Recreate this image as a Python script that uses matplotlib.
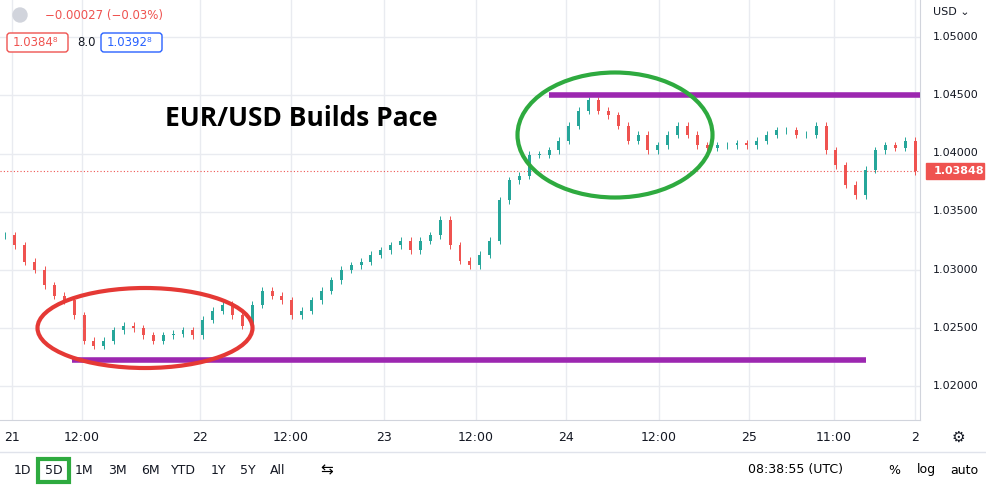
import matplotlib
matplotlib.use("Agg")
import matplotlib.pyplot as plt
from matplotlib.patches import Ellipse, FancyBboxPatch
import numpy as np

closes = [1.0330,1.0321,1.0307,1.0300,1.0287,1.0278,1.0274,1.0261,1.0239,1.0235,
1.0239,1.0248,1.0252,1.0250,1.0244,1.0239,1.0244,1.0245,1.0248,1.0244,
1.0257,1.0265,1.0270,1.0261,1.0252,1.0270,1.0282,1.0278,1.0274,1.0261,
1.0265,1.0274,1.0282,1.0291,1.0300,1.0304,1.0307,1.0313,1.0317,1.0321,
1.0325,1.0317,1.0325,1.0330,1.0343,1.0321,1.0308,1.0304,1.0313,1.0325,
1.0360,1.0377,1.0381,1.0399,1.0399,1.0403,1.0411,1.0424,1.0437,1.0446,
1.0437,1.0433,1.0424,1.0411,1.0416,1.0403,1.0407,1.0416,1.0424,1.0416,
1.0407,1.0405,1.0407,1.0407,1.0409,1.0407,1.0411,1.0416,1.0420,1.0420,
1.0416,1.0416,1.0424,1.0403,1.0390,1.0373,1.0364,1.0386,1.0403,1.0407,
1.0405,1.0411,1.03848]
tick_pos = [0.7,7.8,19.7,28.9,38.3,47.6,56.7,66.1,75.2,83.8,92.0]
tick_labels = ["21","12:00","22","12:00","23","12:00","24","12:00","25","11:00","2"]
price_ticks = [1.020,1.025,1.030,1.035,1.040,1.045,1.050]
last_price = 1.03848
res_level, sup_level = 1.0450, 1.0223

W, H = 987, 487
fig = plt.figure(figsize=(W/100, H/100), dpi=100)
ax = fig.add_axes([0, (H-420)/H, 920/W, 420/H])
ax.set_xlim(-0.5, 92.5)
ax.set_ylim(1.0171, 1.0532)
for t in price_ticks:
    ax.axhline(t, color="#e9ebf0", lw=1, zorder=0)
for t in tick_pos:
    ax.axvline(t, color="#e9ebf0", lw=1, zorder=0)
opens = [closes[0]] + closes[:-1]
for i, (o, c) in enumerate(zip(opens, closes)):
    col = "#26a69a" if c >= o else "#ef5350"
    lo, hi = min(o, c), max(o, c)
    ax.vlines(i, lo - 0.0003, hi + 0.0003, color=col, lw=0.7, zorder=2)
    ax.bar(i, max(hi - lo, 0.00003), bottom=lo, width=0.3, color=col, zorder=3)
ax.axhline(last_price, color="#ef5350", lw=0.8, ls=(0, (1, 2)), zorder=1)
ax.hlines(res_level, 55, 92.5, color="#9c27b0", lw=4, zorder=4)
ax.hlines(sup_level, 6.8, 87, color="#9c27b0", lw=4, zorder=4)
ax.set_xticks(tick_pos, tick_labels)
ax.tick_params(axis="x", length=0, labelsize=9, colors="#131722", pad=8)
ax.set_yticks([])
for s in ["top", "left"]:
    ax.spines[s].set_visible(False)
ax.spines["right"].set_color("#d1d4dc")
ax.spines["bottom"].set_color("#d1d4dc")

ov = fig.add_axes([0, 0, 1, 1], facecolor="none")
ov.set_xlim(0, W); ov.set_ylim(H, 0); ov.axis("off")
for t in price_ticks:
    y = 37 + (1.05 - t) * 11633
    ov.text(933, y, f"{t:.5f}", fontsize=8, color="#131722", va="center")
ov.text(933, 12, "USD ⌄", fontsize=8, color="#131722", va="center")
y = 37 + (1.05 - last_price) * 11633
ov.add_patch(FancyBboxPatch((926, y-8), 58, 16, boxstyle="square,pad=0", color="#ef5350"))
ov.text(934, y, f"{last_price:.5f}", fontsize=8, color="white", va="center", weight="bold")
ov.add_patch(Ellipse((145, 328), 215, 80, fill=False, ec="#e53935", lw=3))
ov.add_patch(Ellipse((615, 135), 195, 125, fill=False, ec="#2eaa3f", lw=3))
ov.text(165, 118, "EUR/USD Builds Pace", fontsize=19, weight="bold", va="center", family="Open Sans")
ov.add_patch(Ellipse((20, 15), 14, 14, color="#d1d4dc"))
ov.text(45, 15, "−0.00027 (−0.03%)", fontsize=8.5, color="#ef5350", va="center")
ov.add_patch(FancyBboxPatch((7, 33), 61, 19, boxstyle="round,pad=0,rounding_size=3", fc="white", ec="#ef5350"))
ov.text(13, 43, "1.0384⁸", fontsize=8.5, color="#ef5350", va="center")
ov.text(77, 43, "8.0", fontsize=8.5, color="#131722", va="center")
ov.add_patch(FancyBboxPatch((101, 33), 61, 19, boxstyle="round,pad=0,rounding_size=3", fc="white", ec="#2962ff"))
ov.text(107, 43, "1.0392⁸", fontsize=8.5, color="#2962ff", va="center")
ov.plot([0, W], [452, 452], color="#e0e3eb", lw=1)
ov.text(958, 437, "⚙", fontsize=11, ha="center", va="center", color="#131722")
for xx, lab in [(22,"1D"),(54,"5D"),(84,"1M"),(117,"3M"),(150,"6M"),(183,"YTD"),(218,"1Y"),(248,"5Y"),(278,"All")]:
    ov.text(xx, 470, lab, fontsize=9, ha="center", va="center", color="#131722")
ov.add_patch(FancyBboxPatch((38, 459), 31, 23, boxstyle="square,pad=0", fc="none", ec="#2eaa3f", lw=3))
ov.text(327, 470, "⇆", fontsize=11, ha="center", va="center")
ov.text(795, 470, "08:38:55 (UTC)", fontsize=9, ha="center", va="center")
for xx, lab in [(894,"%"),(926,"log"),(964,"auto")]:
    ov.text(xx, 470, lab, fontsize=9, ha="center", va="center")
fig.savefig("out.png", dpi=100)
